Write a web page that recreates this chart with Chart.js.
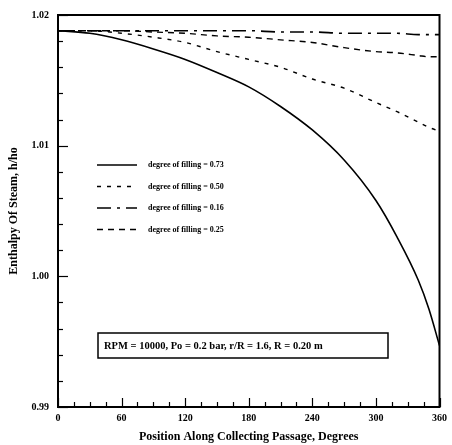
<!DOCTYPE html>
<html>
<head>
<meta charset="utf-8">
<script src="https://cdn.jsdelivr.net/npm/chart.js@4.4.0/dist/chart.umd.min.js"></script>
<style>
html, body { margin: 0; padding: 0; background: #fff; }
#wrap { width: 452px; height: 445px; }
</style>
</head>
<body>
<div id="wrap"><canvas id="enthalpyChart" width="452" height="445"></canvas></div>
<script>
// Position along collecting passage (degrees)
const positions = [0, 30, 60, 90, 120, 150, 180, 210, 240, 270, 300, 320, 340, 350, 360];

// h/ho for each degree of filling
const fill073 = [1.0188, 1.0186, 1.0181, 1.0174, 1.0166, 1.0156, 1.0145, 1.0130, 1.0112, 1.0089, 1.0058, 1.0030, 0.9997, 0.9975, 0.9947];
const fill050 = [1.0188, 1.0188, 1.0186, 1.0183, 1.0179, 1.0172, 1.0166, 1.0160, 1.0151, 1.0144, 1.0133, 1.0126, 1.0118, 1.0114, 1.0111];
const fill016 = [1.0188, 1.0188, 1.0188, 1.0188, 1.0188, 1.0188, 1.0188, 1.0187, 1.0187, 1.0186, 1.0186, 1.0186, 1.0185, 1.0185, 1.0185];
const fill025 = [1.0188, 1.0188, 1.0188, 1.0187, 1.0186, 1.0184, 1.0183, 1.0181, 1.0179, 1.0175, 1.0172, 1.0171, 1.0169, 1.0168, 1.0168];

const seriesLabels = ['degree of filling = 0.73', 'degree of filling = 0.50', 'degree of filling = 0.16', 'degree of filling = 0.25'];
const xTicks = [0, 60, 120, 180, 240, 300, 360];
const yTicks = [0.99, 1.00, 1.01, 1.02];
const noteText = 'RPM = 10000, Po = 0.2 bar, r/R = 1.6, R = 0.20 m';

const lineStyles = [
    { width: 1.6, dash: [] },
    { width: 1.4, dash: [4, 6] },
    { width: 1.6, dash: [14, 6, 3, 6] },
    { width: 1.4, dash: [6, 5] },
];

const seriesValues = [fill073, fill050, fill016, fill025];

function toPoints(values) {
    return positions.map((p, i) => ({ x: p, y: values[i] }));
}

const datasets = seriesValues.map((vals, i) => ({
    label: seriesLabels[i],
    data: toPoints(vals),
    borderColor: '#000',
    borderWidth: lineStyles[i].width,
    borderDash: lineStyles[i].dash,
    pointRadius: 0,
    cubicInterpolationMode: 'monotone',
    fill: false,
}));

// Frame, inward ticks, in-plot legend and parameter box
const decorPlugin = {
    id: 'decor',
    afterDatasetsDraw(chart) {
        const { ctx, chartArea: a, scales: { x, y } } = chart;
        ctx.save();
        ctx.strokeStyle = '#000';
        ctx.setLineDash([]);

        // frame
        ctx.lineWidth = 2;
        ctx.strokeRect(a.left, a.top, a.right - a.left, a.bottom - a.top);

        // x ticks (major every 60, minor every 15)
        ctx.lineWidth = 1.2;
        for (let v = 0; v <= 360; v += 15) {
            const px = Math.round(x.getPixelForValue(v)) + 0.5;
            const len = v % 60 === 0 ? 9 : 5;
            ctx.beginPath();
            ctx.moveTo(px, a.bottom);
            ctx.lineTo(px, a.bottom - len);
            ctx.stroke();
        }
        // y ticks (major every 0.01, minor every 0.002)
        for (let k = 0; k <= 15; k++) {
            const v = 0.99 + k * 0.002;
            const py = Math.round(y.getPixelForValue(v)) + 0.5;
            const len = k % 5 === 0 ? 10 : 5;
            ctx.beginPath();
            ctx.moveTo(a.left, py);
            ctx.lineTo(a.left + len, py);
            ctx.stroke();
        }

        // legend
        ctx.font = 'bold 8px "Liberation Serif"';
        ctx.fillStyle = '#000';
        ctx.textBaseline = 'middle';
        ctx.textAlign = 'left';
        seriesLabels.forEach((lab, i) => {
            const ly = 165 + i * 21.5;
            ctx.lineWidth = lineStyles[i].width;
            ctx.setLineDash(lineStyles[i].dash);
            ctx.beginPath();
            ctx.moveTo(97, ly);
            ctx.lineTo(137, ly);
            ctx.stroke();
            ctx.setLineDash([]);
            ctx.fillText(lab, 148, ly);
        });

        // parameter box
        ctx.lineWidth = 1.5;
        ctx.strokeRect(98, 333, 290, 25);
        ctx.font = 'bold 10.5px "Liberation Serif"';
        ctx.fillText(noteText, 104, 346);

        ctx.restore();
    },
};

const ctx = document.getElementById('enthalpyChart').getContext('2d');
new Chart(ctx, {
    type: 'line',
    data: { datasets },
    options: {
        responsive: false,
        animation: false,
        layout: { padding: { top: 12, right: 9, left: 0, bottom: 0 } },
        plugins: {
            legend: { display: false },
            tooltip: { enabled: false },
        },
        scales: {
            x: {
                type: 'linear',
                min: 0,
                max: 360,
                afterBuildTicks: s => { s.ticks = xTicks.map(v => ({ value: v })); },
                afterFit: s => { s.height = 38; },
                grid: { display: false, drawTicks: false },
                border: { display: false },
                ticks: {
                    padding: 5,
                    color: '#000',
                    font: { family: 'Liberation Serif', size: 10, weight: 'bold' },
                    callback: v => String(v),
                },
                title: {
                    display: true,
                    text: 'Position Along Collecting Passage, Degrees',
                    color: '#000',
                    font: { family: 'Liberation Serif', size: 12, weight: 'bold' },
                    padding: { top: 0, bottom: 1 },
                },
            },
            y: {
                type: 'linear',
                min: 0.99,
                max: 1.02,
                afterBuildTicks: s => { s.ticks = yTicks.map(v => ({ value: v })); },
                afterFit: s => { s.width = 58; },
                grid: { display: false, drawTicks: false },
                border: { display: false },
                ticks: {
                    padding: 9,
                    color: '#000',
                    font: { family: 'Liberation Serif', size: 10, weight: 'bold' },
                    callback: v => v.toFixed(2),
                },
                title: {
                    display: true,
                    text: 'Enthalpy Of Steam, h/ho',
                    color: '#000',
                    font: { family: 'Liberation Serif', size: 12, weight: 'bold' },
                    padding: { top: 7, bottom: 0 },
                },
            },
        },
    },
    plugins: [decorPlugin],
});
</script>
</body>
</html>
